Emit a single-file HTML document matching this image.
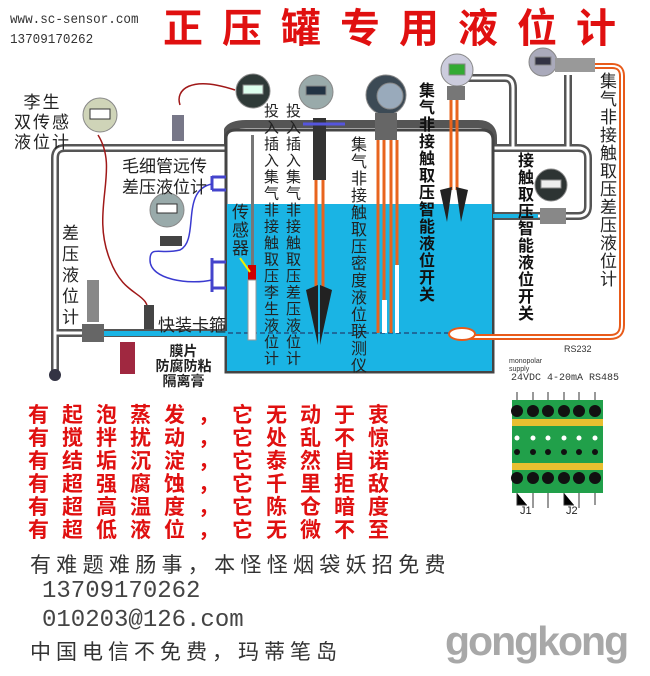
<!DOCTYPE html>
<html><head><meta charset="utf-8"><style>
body{margin:0;width:650px;height:676px;background:#fff;position:relative;overflow:hidden;font-family:"Liberation Sans","Noto Sans CJK SC",sans-serif}
.a{position:absolute;white-space:nowrap}
.v{position:absolute;writing-mode:vertical-rl;text-orientation:upright;font-size:16px;line-height:17px;color:#222;letter-spacing:1px}
.r{position:absolute;left:28px;font-size:21px;line-height:23px;color:#e01010;font-weight:bold;letter-spacing:13px;font-family:"Noto Sans CJK SC",sans-serif}
.k{position:absolute;font-family:"Noto Sans CJK SC",sans-serif;color:#333;font-size:21px}
.m{position:absolute;font-family:"Liberation Mono",monospace;color:#444;font-size:24px}
</style></head><body>
<svg class="a" style="left:0;top:0" width="650" height="676">
<g fill="none" stroke="#555" stroke-width="8" stroke-linejoin="round">
<path d="M228 148 H65 Q55 148 55 158 V333 H228"/>
<path d="M55 333 V372"/>
<path d="M493 148 H578 Q588 148 588 158 V206 Q588 216 578 216 H493"/>
<path d="M462 78 H505 Q513 78 513 88 V148"/>
<path d="M568 75 V148"/>
<path d="M228 148 V130 Q232 124 246 124 H478 Q493 124 493 138 V148"/>
</g>
<g fill="none" stroke="#fff" stroke-width="3" stroke-linejoin="round">
<path d="M228 148 H65 Q55 148 55 158 V333 H228"/>
<path d="M55 333 V372"/>
<path d="M493 148 H578 Q588 148 588 158 V206 Q588 216 578 216 H493"/>
<path d="M462 78 H505 Q513 78 513 88 V148"/>
<path d="M568 75 V148"/>
</g>
<path d="M226 372 V138 Q226 130 236 130 H482 Q493 130 493 140 V372 Z" fill="#fff" stroke="#444" stroke-width="3"/>
<rect x="227" y="204" width="265" height="167" fill="#1ab4e4"/>
<rect x="100" y="331" width="128" height="5" fill="#1ab4e4"/>
<rect x="493" y="214" width="45" height="4" fill="#1ab4e4"/>
<line x1="228" y1="333" x2="455" y2="333" stroke="#225" stroke-width="1" stroke-dasharray="5,3"/>
<g stroke="#4444cc" stroke-width="3"><path d="M212 176 V190 M212 258 V292 M212 177 H226 M212 190 H226 M212 262 H226 M212 288 H226"/></g>
<path d="M588 66 H612 Q622 66 622 76 V325 Q622 337 610 337 H470" fill="none" stroke="#e85b1a" stroke-width="6"/>
<path d="M588 66 H612 Q622 66 622 76 V325 Q622 337 610 337 H470" fill="none" stroke="#fff" stroke-width="2"/>
<ellipse cx="462" cy="334" rx="13" ry="6" fill="#fff" stroke="#e85b1a" stroke-width="2"/>
<g stroke="#e8641e" stroke-width="3">
<line x1="316" y1="180" x2="316" y2="300"/><line x1="323" y1="180" x2="323" y2="300"/>
<line x1="378" y1="140" x2="378" y2="333"/><line x1="384" y1="140" x2="384" y2="333"/>
<line x1="391" y1="140" x2="391" y2="333"/><line x1="397" y1="140" x2="397" y2="333"/>
<line x1="451" y1="100" x2="451" y2="190"/><line x1="457" y1="100" x2="457" y2="190"/>
</g>
<rect x="382" y="300" width="5" height="33" fill="#fff"/>
<rect x="395" y="265" width="4" height="68" fill="#fff"/>
<path d="M306 290 L318 285 L318 345 Z M332 290 L320 285 L320 345 Z" fill="#222"/>
<path d="M440 190 L452 187 L447 222 Z M468 190 L456 187 L461 222 Z" fill="#222"/>
<rect x="251" y="135" width="3" height="200" fill="#777"/>
<rect x="248" y="265" width="8" height="15" fill="#c00"/>
<rect x="248" y="280" width="8" height="60" fill="#fff" stroke="#999"/>
<line x1="240" y1="258" x2="250" y2="272" stroke="#ee0" stroke-width="2"/>
<rect x="313" y="118" width="13" height="62" fill="#333"/>
<line x1="303" y1="124" x2="345" y2="124" stroke="#5555dd" stroke-width="3"/>
<path d="M98 135 C120 170 90 210 110 260 C125 300 150 290 148 315" fill="none" stroke="#a01818" stroke-width="1.5"/>
<path d="M180 105 C175 90 190 75 235 90" fill="none" stroke="#a01818" stroke-width="1.5"/>
<path d="M212 184 C180 190 200 240 180 250 C160 255 150 245 150 260 C150 280 190 285 212 280" fill="none" stroke="#3a3ad0" stroke-width="1.5"/>
<g stroke="#888" stroke-width="1">
<circle cx="100" cy="115" r="17" fill="#cfd4b8"/><rect x="90" y="109" width="20" height="10" fill="#fff" stroke="#333"/>
<circle cx="253" cy="91" r="17" fill="#2f3a38"/><rect x="243" y="85" width="20" height="9" fill="#dfe"/>
<circle cx="316" cy="92" r="17" fill="#9aa"/><rect x="306" y="86" width="20" height="9" fill="#234"/>
<circle cx="386" cy="95" r="20" fill="#3c4a55"/><circle cx="390" cy="96" r="13" fill="#9ab"/>
<circle cx="457" cy="70" r="16" fill="#ccd"/><rect x="449" y="64" width="16" height="11" fill="#3a3"/>
<circle cx="543" cy="62" r="14" fill="#aab"/><rect x="535" y="57" width="16" height="8" fill="#334"/>
<circle cx="551" cy="185" r="16" fill="#2d3433"/><rect x="541" y="180" width="20" height="8" fill="#eee"/>
<circle cx="167" cy="210" r="17" fill="#9aa"/><rect x="157" y="204" width="20" height="9" fill="#fff" stroke="#333"/>
</g>
<rect x="555" y="58" width="40" height="14" fill="#999"/>
<rect x="160" y="236" width="22" height="10" fill="#444"/>
<rect x="540" y="208" width="26" height="16" fill="#888"/>
<rect x="375" y="113" width="22" height="27" fill="#666"/>
<rect x="447" y="86" width="18" height="14" fill="#777"/>
<rect x="172" y="115" width="12" height="26" fill="#778"/>
<rect x="87" y="280" width="12" height="42" fill="#888"/>
<rect x="82" y="324" width="22" height="18" fill="#666"/>
<rect x="144" y="305" width="10" height="24" fill="#444"/>
<rect x="120" y="342" width="15" height="32" fill="#a02840"/>
<circle cx="55" cy="375" r="6" fill="#334"/>
<rect x="512" y="400" width="91" height="93" fill="#21a04a"/>
<g fill="#111">
<circle cx="517" cy="411" r="6"/><circle cx="533" cy="411" r="6"/><circle cx="548" cy="411" r="6"/><circle cx="564" cy="411" r="6"/><circle cx="579" cy="411" r="6"/><circle cx="595" cy="411" r="6"/>
<circle cx="517" cy="478" r="6"/><circle cx="533" cy="478" r="6"/><circle cx="548" cy="478" r="6"/><circle cx="564" cy="478" r="6"/><circle cx="579" cy="478" r="6"/><circle cx="595" cy="478" r="6"/>
<circle cx="517" cy="452" r="3"/><circle cx="533" cy="452" r="3"/><circle cx="548" cy="452" r="3"/><circle cx="564" cy="452" r="3"/><circle cx="579" cy="452" r="3"/><circle cx="595" cy="452" r="3"/>
</g>
<g fill="#fff"><circle cx="517" cy="438" r="2.5"/><circle cx="533" cy="438" r="2.5"/><circle cx="548" cy="438" r="2.5"/><circle cx="564" cy="438" r="2.5"/><circle cx="579" cy="438" r="2.5"/><circle cx="595" cy="438" r="2.5"/></g>
<rect x="512" y="419" width="91" height="7" fill="#e8c030"/>
<rect x="512" y="463" width="91" height="7" fill="#e8c030"/>
<g stroke="#333" stroke-width="1"><path d="M517 392V400M533 392V400M548 392V400M564 392V400M579 392V400M595 392V400"/>
<path d="M517 493V505H527M533 493V508M548 493V508M564 493V505H574M579 493V508M595 493V505"/></g>
</svg>
<div class="a" style="left:10px;top:10px;font-family:'Liberation Mono',monospace;font-size:14px;color:#333;line-height:20px;transform:scaleX(.9);transform-origin:0 0">www.sc-sensor.com<br>13709170262</div>
<div class="a" style="left:163px;top:2px;font-size:40px;line-height:46px;color:#e01010;font-weight:bold;letter-spacing:19px;font-family:'Noto Sans CJK SC',sans-serif">正压罐专用液位计</div>
<div class="a" style="left:14px;top:93px;font-size:17px;line-height:20px;color:#222;text-align:center;letter-spacing:2px">李生<br>双传感<br>液位计</div>
<div class="a" style="left:122px;top:156px;font-size:17px;line-height:21px;color:#222">毛细管远传<br>差压液位计</div>
<div class="v" style="left:60px;top:224px;font-size:17px;line-height:17px;letter-spacing:4px">差压液位计</div>
<div class="a" style="left:158px;top:311px;font-size:17px;color:#222">快装卡箍</div>
<div class="a" style="left:140px;top:344px;font-size:14px;line-height:15px;color:#222;text-align:center;font-weight:bold">&nbsp;&nbsp;&nbsp;&nbsp;膜片<br>&nbsp;&nbsp;&nbsp;&nbsp;防腐防粘<br>&nbsp;&nbsp;&nbsp;&nbsp;隔离膏</div>
<div class="v" style="left:230px;top:203px;font-size:17px">传感器</div>
<div class="v" style="left:262px;top:103px;font-size:15px;letter-spacing:1.5px">投入插入集气非接触取压李生液位计</div>
<div class="v" style="left:284px;top:103px;font-size:15px;letter-spacing:1.5px">投入插入集气非接触取压差压液位计</div>
<div class="v" style="left:348px;top:136px;font-size:16px;letter-spacing:1px">集气非接触取压密度液位联测仪</div>
<div class="v" style="left:416px;top:82px;font-weight:bold;color:#111">集气非接触取压智能液位开关</div>
<div class="v" style="left:515px;top:152px;font-weight:bold;color:#111">接触取压智能液位开关</div>
<div class="v" style="left:598px;top:72px;font-size:17px;letter-spacing:1px">集气非接触取压差压液位计</div>
<div class="a" style="left:509px;top:345px;font-size:7px;line-height:8px;color:#333">
<span style="position:absolute;left:55px;top:0;font-size:9px">RS232</span>
<span style="position:absolute;left:0;top:13px">monopolar<br>supply</span>
<span style="position:absolute;left:2px;top:30px;font-size:10px;font-family:'Liberation Mono',monospace">24VDC 4-20mA RS485</span></div>
<div class="a" style="left:520px;top:505px;font-size:11px;color:#222">J1</div>
<div class="a" style="left:566px;top:505px;font-size:11px;color:#222">J2</div>
<div class="r" style="top:403px">有起泡蒸发，它无动于衷</div>
<div class="r" style="top:426px">有搅拌扰动，它处乱不惊</div>
<div class="r" style="top:449px">有结垢沉淀，它泰然自诺</div>
<div class="r" style="top:472px">有超强腐蚀，它千里拒敌</div>
<div class="r" style="top:495px">有超高温度，它陈仓暗度</div>
<div class="r" style="top:518px">有超低液位，它无微不至</div>
<div class="k" style="left:30px;top:549px;letter-spacing:5.3px">有难题难肠事，本怪怪烟袋妖招免费</div>
<div class="m" style="left:42px;top:578px">13709170262</div>
<div class="m" style="left:42px;top:607px">010203@126.com</div>
<div class="k" style="left:30px;top:636px;letter-spacing:5px">中国电信不免费，玛蒂笔岛</div>
<div class="a" style="left:445px;top:618px;font-size:41px;font-weight:bold;color:#a8a8a8;letter-spacing:-2px">gongkong</div>
</body></html>
